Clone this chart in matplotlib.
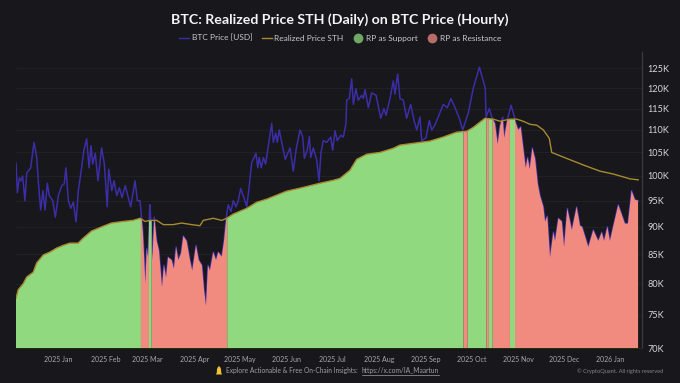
import numpy as np
import matplotlib
matplotlib.use("Agg")
import matplotlib.pyplot as plt
from matplotlib.lines import Line2D
from matplotlib.patches import Polygon
from matplotlib.ticker import FixedLocator, FixedFormatter, NullLocator

W, H = 680, 383
FONT = ['Lato', 'DejaVu Sans']
plt.rcParams['font.family'] = FONT

# days since 2024-12-04
price_day = [0,0.9,2.2,3.3,4.4,5.9,7.1,9.7,11.9,13.7,14.7,16.3,17.8,19.2,20.7,22,24.3,26,28,30.2,31.9,33,34.6,36.2,37.9,39.7,41.2,42.8,44.9,46.7,48.3,49.6,50.7,52.4,54.2,56.6,58.4,60.3,61.3,63.3,64.8,66.6,68.3,70.1,72.2,75.8,78.7,80.2,82,83.3,83.9,85.5,86.4,87.3,88.4,89,90.1,91.4,93,94.5,96.5,97.8,99.2,100.5,102.9,104.4,105.8,107.3,109.1,110.6,112.8,115,116.5,119,120.8,122.9,124.3,125.6,126.9,128.2,130.4,132.2,133.7,136,137.5,138.8,139.2,140.3,142.1,143.6,145.4,146.9,148.5,150.7,152.5,154,155.8,158.6,159.8,160.8,162.1,163.5,165,166.8,169,170.1,171.7,172.7,174,175.6,178,181.1,183.3,185.1,187.7,189.5,190.6,192.5,193.9,194.8,196.5,198.8,200.3,201.6,203.1,205.4,208,209.3,210.9,212.4,214.6,216.4,218.1,218.6,220.3,221.9,223,224.7,226.2,228.5,229.6,230.7,232.9,235.1,238,241.1,243.2,244.6,247.2,249.4,250.5,252.3,253.8,256,258.2,260.9,263.1,264.9,267,268.2,271,273.2,274.8,277,279.1,282.4,285.1,287.5,290.2,293,295.3,299,302.3,306.3,308.9,310.2,310.7,312.9,314.5,316.6,318.4,320,321.7,322.7,324.7,327.2,328.7,330.3,332,333.6,335.3,336.9,338.2,339.6,341.3,343.1,344.9,346.4,348.6,349.7,351.2,353,355.2,356.3,358.5,360.8,362.3,364.4,367.4,370.6,372.8,374.2,378.3,381.6,384.9,387.2,388.7,390.9,392.6,398.1,402.5,404.5,406.9,409.1,411.3]
price_k = [102.7,96.6,99.6,99,100,95,100.6,101.7,107.2,103.9,99,93.2,97,93.2,98.5,96,95,91.8,96,98,98.4,101.7,95,93.5,94.7,90.9,97,100.4,105.5,108,101.7,106.5,102.5,104.8,99,106,102.5,93.8,101.4,97,99,96,97.6,95.6,98,93.8,99,95,95,90.9,88.9,80,86,84.5,94.2,91.8,84,91.8,87.4,85.7,79.4,83.1,81,84.5,84,82.5,86.3,84,85.2,88.3,87.4,84,82.2,86.6,84,83.1,79,76.4,83.1,82.2,85.4,84,85.4,84.6,87.4,91,92.2,94.2,92.9,95,93.8,95,97.4,95.6,93.8,97.4,102.8,104.8,101.7,103.9,101.7,103.9,102.5,106.5,111.5,107.2,109.3,107.2,110,107.2,103.5,106,101,105.5,110,108.5,103.7,105.5,108.5,103.9,106,103.3,99,105,107.6,107.2,108.4,105.5,109.8,107.6,108.8,108.4,111.5,117,117.4,122.3,116,119.8,117,118.2,117.4,119.6,115.2,118.8,118.2,112.7,115,113.4,117.4,121.8,118.5,123.5,117.4,117,112.7,116,112.2,110,113,107.6,108.2,112.2,110,111.2,113,116,115.2,117.4,115.2,112.7,110,114,120,125.3,121.8,120,113,115,113,111.5,106.8,111,113,108.2,112.2,115.8,114,111.7,110,110.7,106,101.7,103.9,101.4,106,103.7,98.4,96,93.8,91,92,84.5,89,87.4,91.6,91,86.3,93.5,89.4,93.8,90.2,90,86.3,89.4,87.4,89,87.4,90,87.4,94.2,90.6,90.6,97,95.2,95]

rp_day = [0,1.5,4.8,7.1,11.4,13.7,18.1,22.5,26.8,31.2,35.6,41.1,44.4,49.9,57.6,63.1,70.8,77.4,82.1,85.3,88.6,93,97.4,103.8,109.5,116.1,121.6,123.8,130.4,136,139.2,143.6,152.5,159.1,165.7,178.9,187.7,200.9,209.7,214.2,220.8,225.2,231.8,240.6,249.4,253.8,262.6,273.7,282.4,291.3,297.9,302.3,310,315.5,320,326.5,331,335.3,339.8,344.2,348.6,352.5,354.1,364,375,386,394.8,401.4,405.8,411.3]
rp_k = [77.6,79,80,81.1,81.9,83.5,84.9,85.4,86.1,86.6,87,87,87.9,89.2,90.1,90.7,91,91.2,91.6,91,91.2,91.2,90.4,90.4,90.7,90.4,90.2,91.2,91.6,91.2,91.6,92.4,93.5,94.7,95.3,96.9,97.5,98.5,99.1,99.5,101.2,103.5,104.6,105,105.9,106.6,107,107.5,108.4,109.5,109.7,110.6,112.7,112.5,112,112.5,112.5,112,111.3,111.1,110,108.1,105,103.7,102.3,101,100.4,99.8,99.4,99.2]

resistance_start = [82.6,89.7,295.7,310.9,315.1,329.6]
resistance_end = [87.9,139.7,298.6,312.7,326.5,411.3]

month_days = [28,59,87,118,148,179,209,240,271,301,332,362,393]
month_labels = ['2025 Jan','2025 Feb','2025 Mar','2025 Apr','2025 May','2025 Jun','2025 Jul','2025 Aug','2025 Sep','2025 Oct','2025 Nov','2025 Dec','2026 Jan']
y_ticks = [70,75,80,85,90,95,100,105,110,115,120,125]
y_labels = [f'{v}K' for v in y_ticks]

BG = '#17171c'
GREEN = '#90d97e'
RED = '#f18b80'
VIOLET = '#3b2ea6'
GOLD = '#a88a30'
TXT = '#c9c9cc'

fig = plt.figure(figsize=(W/100, H/100), dpi=100, facecolor=BG)
L, R, T, B = 16, 642, 52, 348
ax = fig.add_axes([L/W, 1-B/H, (R-L)/W, (B-T)/H], facecolor=BG)

grid = np.arange(0, 411.3, 0.1)
p = np.interp(grid, price_day, price_k)
r = np.interp(grid, rp_day, rp_k)
res = np.zeros_like(grid, dtype=bool)
for a, b in zip(resistance_start, resistance_end):
    res |= (grid >= a) & (grid <= b)
sup = ~res
sup_wide = sup | np.roll(sup, 1) | np.roll(sup, -1)
ax.plot(price_day, price_k, color=VIOLET, lw=1.1, zorder=2, solid_joinstyle='round')
ax.fill_between(grid, 70, np.minimum(p, r), where=res, color=RED, lw=0, zorder=3)
ax.fill_between(grid, 70, r, where=sup_wide, color=GREEN, lw=0, zorder=3)
ax.plot(rp_day, rp_k, color=GOLD, lw=1.0, zorder=4)

ax.set_yscale('log')
ax.set_ylim(70, 129.3)
ax.set_xlim(0, (R-L)*0.661)
ax.yaxis.tick_right()
ax.yaxis.set_major_locator(FixedLocator(y_ticks))
ax.yaxis.set_major_formatter(FixedFormatter(y_labels))
ax.yaxis.set_minor_locator(NullLocator())
ax.set_xticks(month_days, month_labels)
ax.tick_params(axis='x', length=0, labelsize=5.0, labelcolor='#a8a8ac', pad=6)
ax.tick_params(axis='y', length=0, labelsize=6.6, labelcolor='#d8d8da', pad=4)
ax.grid(axis='y', color='#222228', lw=0.6, zorder=1)
for s in ['top', 'left']:
    ax.spines[s].set_visible(False)
ax.spines['right'].set_color('#3a3a40')
ax.spines['right'].set_linewidth(0.9)
ax.spines['bottom'].set_color('#20300f')
ax.spines['bottom'].set_linewidth(0.7)

def fx(px): return px/W
def fy(py): return 1-py/H

fig.text(fx(339.5), fy(19.5), 'BTC: Realized Price STH (Daily) on BTC Price (Hourly)',
         ha='center', va='center', color='#f4f4f4', fontsize=10.2, fontweight='bold')

handles = [Line2D([], [], color=VIOLET, lw=1),
           Line2D([], [], color=GOLD, lw=1),
           Line2D([], [], color='#6fa863', marker='o', ms=6.0, ls='none'),
           Line2D([], [], color='#b96d68', marker='o', ms=6.0, ls='none')]
leg = fig.legend(handles, ['BTC Price [USD]', 'Realized Price STH', 'RP as Support', 'RP as Resistance'],
                 ncol=4, loc='center', bbox_to_anchor=(fx(340), fy(38)), frameon=False,
                 fontsize=6.0, labelcolor=TXT, handlelength=1.2, handletextpad=0.3,
                 columnspacing=1.15, borderpad=0)

# footer
fig.text(fx(226), fy(371), 'Explore Actionable & Free On-Chain Insights:', ha='left', va='center',
         color='#a0a0a4', fontsize=4.8)
link = fig.text(fx(362), fy(371), 'https://x.com/IA_Maartun', ha='left', va='center',
                color='#a0a0a4', fontsize=4.8)
fig.text(fx(663), fy(371), '© CryptoQuant. All rights reserved', ha='right', va='center',
         color='#85858a', fontsize=4.1)

fig.canvas.draw()
bb = link.get_window_extent()
fig.add_artist(Line2D([bb.x0/W, bb.x1/W], [fy(375)]*2, color='#a0a0a4', lw=0.5))
# bell
bell = [(216,374.5),(222,374.5),(221.2,372.5),(221,369),(219.8,366.5),(218.2,366.5),(217,369),(216.8,372.5)]
fig.add_artist(Polygon([(fx(a), fy(b)) for a, b in bell], closed=True, color='#f2c230', lw=0, transform=fig.transFigure))

fig.savefig('out.png', dpi=100, facecolor=BG)
